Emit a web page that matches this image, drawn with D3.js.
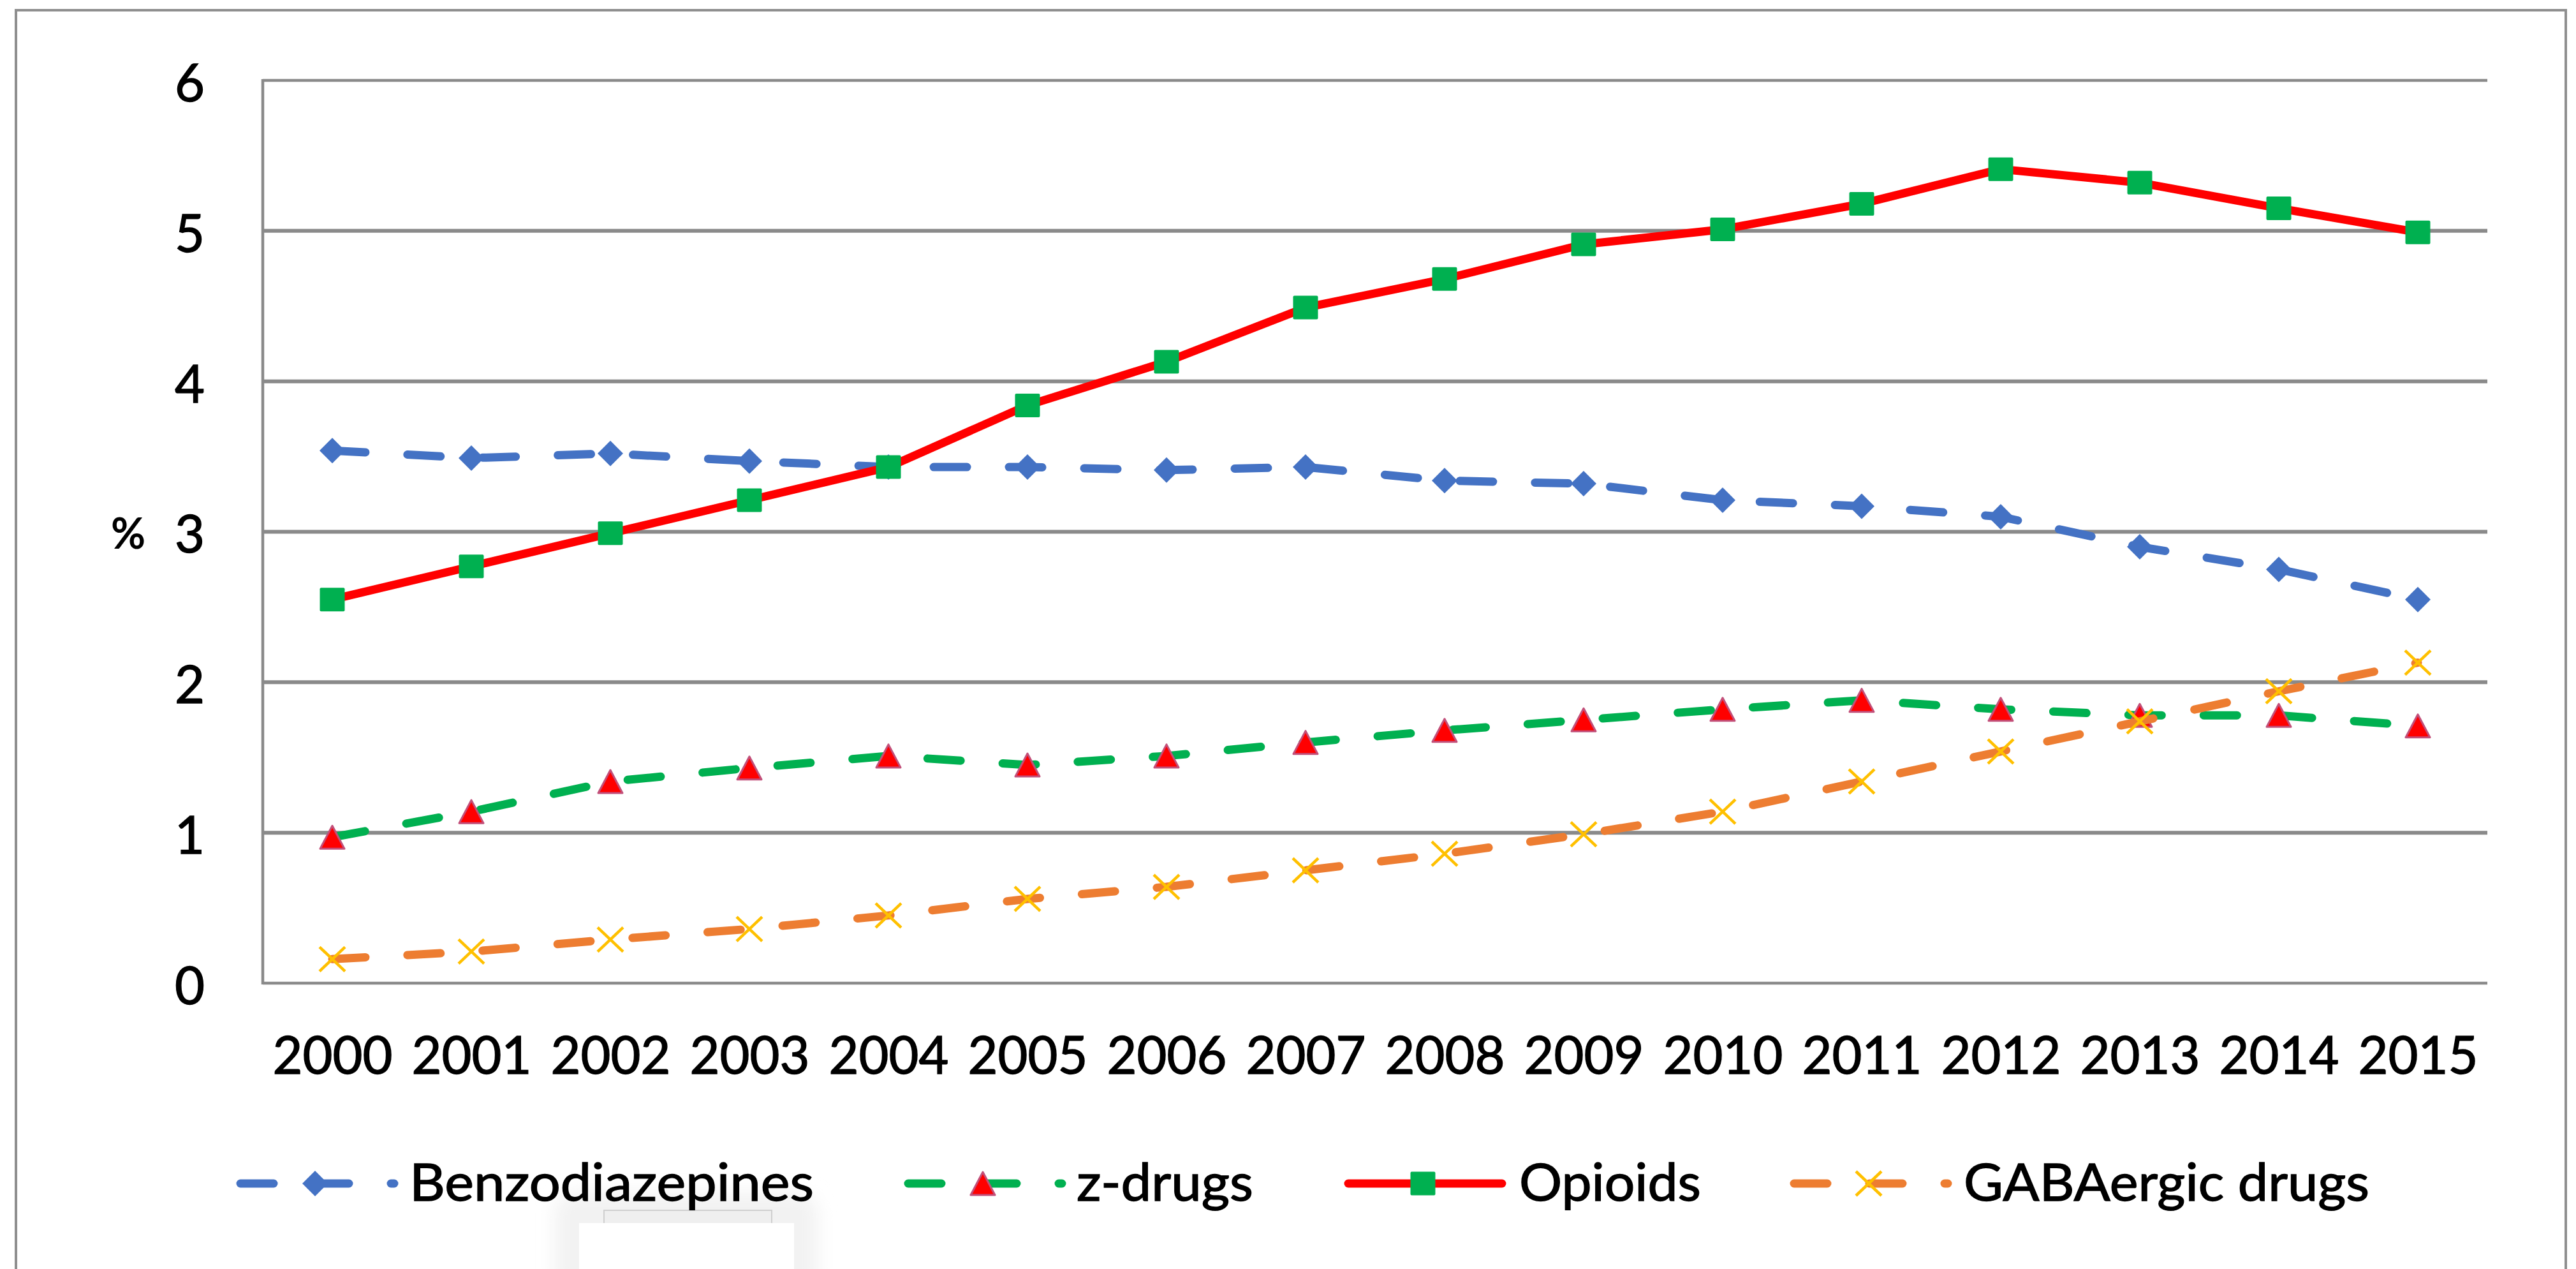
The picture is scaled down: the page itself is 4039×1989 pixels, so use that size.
<!DOCTYPE html>
<html>
<head>
<meta charset="utf-8">
<script src="https://cdn.jsdelivr.net/npm/d3@7"></script>
<style>
  html, body { margin: 0; padding: 0; background: #ffffff; }
  svg { display: block; }
</style>
</head>
<body>
<script>
// ---- data -------------------------------------------------------------
const years = ["2000", "2001", "2002", "2003", "2004", "2005", "2006", "2007",
               "2008", "2009", "2010", "2011", "2012", "2013", "2014", "2015"];
const benzodiazepines = [3.54, 3.49, 3.52, 3.47, 3.43, 3.43, 3.41, 3.43,
                         3.34, 3.32, 3.21, 3.17, 3.10, 2.90, 2.75, 2.55];
const zDrugs          = [0.97, 1.14, 1.34, 1.43, 1.51, 1.45, 1.51, 1.60,
                         1.68, 1.75, 1.82, 1.88, 1.82, 1.78, 1.78, 1.71];
const opioids         = [2.55, 2.77, 2.99, 3.21, 3.43, 3.84, 4.13, 4.49,
                         4.68, 4.91, 5.01, 5.18, 5.41, 5.32, 5.15, 4.99];
const gabaergicDrugs  = [0.16, 0.21, 0.29, 0.36, 0.45, 0.56, 0.64, 0.75,
                         0.86, 0.99, 1.14, 1.34, 1.54, 1.74, 1.94, 2.13];
const seriesNames = ["Benzodiazepines", "z-drugs", "Opioids", "GABAergic drugs"];
const yTicks = [0, 1, 2, 3, 4, 5, 6];
const yTitle = "%";

// ---- layout -----------------------------------------------------------
const W = 4039, H = 1989;
const plot = { left: 412, right: 3900, top: 126, bottom: 1541 };
const FONT = "Lato, 'Open Sans', 'Noto Sans', sans-serif";
const GRID = "#8a8a8a";
const TEXT_WEIGHT = 1.4;   // slight outline to give the labels a heavier stroke

const svg = d3.select("body").append("svg")
  .attr("width", W).attr("height", H)
  .attr("viewBox", `0 0 ${W} ${H}`);

const defs = svg.append("defs");
defs.append("filter").attr("id", "soft").attr("x", "-30%").attr("y", "-30%")
  .attr("width", "160%").attr("height", "160%")
  .append("feGaussianBlur").attr("stdDeviation", 14);

// chart frame
svg.append("rect")
  .attr("x", 25).attr("y", 16).attr("width", 3998).attr("height", 2100)
  .attr("fill", "none").attr("stroke", "#8f8f8f").attr("stroke-width", 4);

// small floating panel below the legend (drawn underneath the legend text)
const panel = svg.append("g");
panel.append("rect")
  .attr("x", 870).attr("y", 1870).attr("width", 412).attr("height", 160).attr("rx", 30)
  .attr("fill", "#f2f2f2").attr("filter", "url(#soft)");
panel.append("rect")
  .attr("x", 947).attr("y", 1897).attr("width", 263).attr("height", 40)
  .attr("fill", "#efefef").attr("stroke", "#cfcfcf").attr("stroke-width", 2);
panel.append("rect")
  .attr("x", 908).attr("y", 1917).attr("width", 337).attr("height", 80)
  .attr("fill", "#ffffff");

// scales
const x = d3.scalePoint().domain(years).range([plot.left, plot.right]).padding(0.5);
const y = d3.scaleLinear().domain([0, 6]).range([plot.bottom, plot.top]);

// horizontal gridlines
svg.append("g").selectAll("line").data(yTicks).join("line")
  .attr("x1", plot.left).attr("x2", plot.right)
  .attr("y1", d => y(d)).attr("y2", d => y(d))
  .attr("stroke", GRID)
  .attr("stroke-width", d => (d === 0 || d === 6) ? 4.5 : 6);

// vertical value axis line
svg.append("line")
  .attr("x1", plot.left).attr("x2", plot.left)
  .attr("y1", plot.top - 2).attr("y2", plot.bottom + 2)
  .attr("stroke", GRID).attr("stroke-width", 4.5);

// value axis labels
const yAxis = svg.append("g")
  .attr("transform", `translate(${plot.left},0)`)
  .call(d3.axisLeft(y).tickValues(yTicks).tickSize(0).tickPadding(91).tickFormat(d3.format("d")));
yAxis.select(".domain").remove();
yAxis.attr("font-family", FONT).attr("font-size", 81);
yAxis.selectAll("text").attr("fill", "#000").attr("dy", "0.4em")
  .attr("stroke", "#000").attr("stroke-width", TEXT_WEIGHT);

// axis title
svg.append("text")
  .attr("x", 201).attr("y", y(3) + 26)
  .attr("text-anchor", "middle")
  .attr("font-family", FONT).attr("font-size", 66).attr("font-weight", "bold")
  .attr("fill", "#000")
  .text(yTitle);

// category axis labels
const xAxis = svg.append("g")
  .attr("transform", `translate(0,${plot.bottom})`)
  .call(d3.axisBottom(x).tickSize(0).tickPadding(84));
xAxis.select(".domain").remove();
xAxis.attr("font-family", FONT).attr("font-size", 81);
xAxis.selectAll("text").attr("fill", "#000")
  .attr("stroke", "#000").attr("stroke-width", TEXT_WEIGHT);

// ---- series -----------------------------------------------------------
const DASH = "52,66";
const series = [
  { name: seriesNames[0], values: benzodiazepines, color: "#4472C4", dash: DASH, marker: "diamond" },
  { name: seriesNames[1], values: zDrugs,          color: "#00B050", dash: DASH, marker: "triangle" },
  { name: seriesNames[2], values: opioids,         color: "#FF0000", dash: null, marker: "square" },
  { name: seriesNames[3], values: gabaergicDrugs,  color: "#ED7D31", dash: DASH, marker: "cross" }
];

function drawMarker(g, type, cx, cy) {
  if (type === "diamond") {
    g.append("path")
      .attr("d", `M${cx},${cy - 20}L${cx + 20},${cy}L${cx},${cy + 20}L${cx - 20},${cy}Z`)
      .attr("fill", "#4472C4");
  } else if (type === "triangle") {
    g.append("path")
      .attr("d", `M${cx},${cy - 18}L${cx + 19},${cy + 18}L${cx - 19},${cy + 18}Z`)
      .attr("fill", "#FF0000").attr("stroke", "#C2507A").attr("stroke-width", 3)
      .attr("stroke-linejoin", "round");
  } else if (type === "square") {
    g.append("rect")
      .attr("x", cx - 19.5).attr("y", cy - 18.5).attr("width", 39).attr("height", 37)
      .attr("rx", 2)
      .attr("fill", "#00B050");
  } else if (type === "cross") {
    g.append("path")
      .attr("d", `M${cx - 20},${cy - 19}L${cx + 20},${cy + 19}M${cx + 20},${cy - 19}L${cx - 20},${cy + 19}`)
      .attr("stroke", "#FFC000").attr("stroke-width", 4.5).attr("fill", "none");
  }
}

const line = d3.line().x((d, i) => x(years[i])).y(d => y(d));

const seriesG = svg.append("g");
series.forEach(s => {
  const g = seriesG.append("g");
  g.append("path")
    .datum(s.values)
    .attr("d", line)
    .attr("fill", "none")
    .attr("stroke", s.color)
    .attr("stroke-width", 13)
    .attr("stroke-linecap", "round")
    .attr("stroke-linejoin", "round")
    .attr("stroke-dasharray", s.dash);
  s.values.forEach((v, i) => drawMarker(g, s.marker, x(years[i]), y(v)));
});

// ---- legend -----------------------------------------------------------
const legendY = 1855;
const legendItems = [
  { start: 370,  textX: 642,  textW: 634 },
  { start: 1417, textX: 1688, textW: 277 },
  { start: 2107, textX: 2382, textW: 285 },
  { start: 2806, textX: 3079, textW: 636 }
];
const legend = svg.append("g");
series.forEach((s, k) => {
  const it = legendItems[k];
  const g = legend.append("g");
  g.append("path")
    .attr("d", `M${it.start + 7},${legendY}H${it.start + 248}`)
    .attr("fill", "none")
    .attr("stroke", s.color).attr("stroke-width", 13)
    .attr("stroke-linecap", "round")
    .attr("stroke-dasharray", s.dash);
  drawMarker(g, s.marker, it.start + 124, legendY);
  g.append("text")
    .attr("x", it.textX).attr("y", legendY + 27)
    .attr("font-family", FONT).attr("font-size", 82).attr("fill", "#000")
    .attr("stroke", "#000").attr("stroke-width", TEXT_WEIGHT)
    .attr("textLength", it.textW).attr("lengthAdjust", "spacingAndGlyphs")
    .text(s.name);
});
</script>
</body>
</html>
